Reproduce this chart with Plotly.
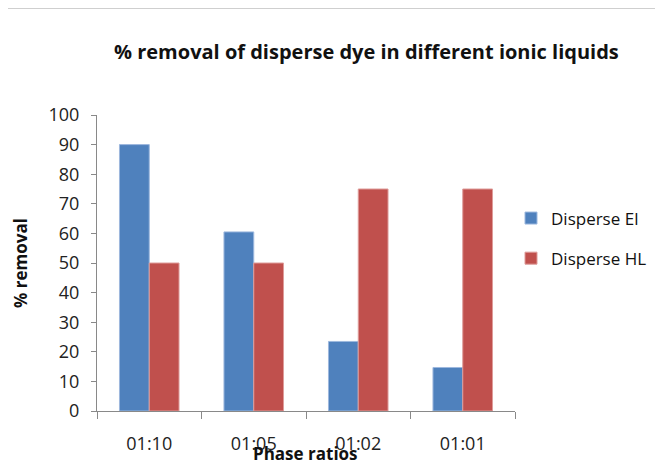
import plotly.graph_objects as go

categories = ["01:10", "01:05", "01:02", "01:01"]
disperse_el = [90, 60.5, 23.5, 14.7]
disperse_hl = [50, 50, 75, 75]
y_ticks = list(range(0, 101, 10))

FONT = "Open Sans"
# the page body has an 8px margin, so work in a frame shifted by 8px
OFF = 8
W, H = 663 - OFF, 465 - OFF
L, R, T, B = 97 - OFF, 515 - OFF, 115 - OFF, 411 - OFF
plot_w, plot_h = R - L, B - T

def px(pix):
    return (pix - OFF - L) / plot_w

def py(pix):
    return (B - (pix - OFF)) / plot_h

fig = go.Figure()
fig.add_trace(go.Bar(x=categories, y=disperse_el, name="Disperse El", legendgroup="a",
                     marker=dict(color="#4F81BD", line=dict(color="#9DB8DE", width=1))))
fig.add_trace(go.Bar(x=categories, y=disperse_hl, name="Disperse HL", legendgroup="b",
                     marker=dict(color="#C0504D", line=dict(color="#DE9C9A", width=1))))

fig.update_layout(
    width=W, height=H,
    margin=dict(l=L, r=W - R, t=T, b=H - B, pad=0, autoexpand=False),
    paper_bgcolor="white", plot_bgcolor="white",
    barmode="group", bargap=0.43, bargroupgap=0,
    font=dict(family=FONT, color="#222222"),
    showlegend=True,
    legend=dict(x=px(511), y=py(238.5), xanchor="left", yanchor="middle",
                font=dict(size=17, family=FONT, color="#111111"),
                itemwidth=30, tracegroupgap=15, traceorder="grouped"),
    xaxis=dict(showline=True, linecolor="#898989", linewidth=1, automargin=False,
               ticks="outside", ticklen=7, tickcolor="#898989",
               tickfont=dict(size=18, family=FONT, color="#222222"),
               ticklabelstandoff=16, tickson="boundaries", showgrid=False),
    yaxis=dict(range=[0, 100], tickvals=y_ticks, showline=True, automargin=False,
               linecolor="#898989", linewidth=1, ticks="outside", ticklen=5,
               tickcolor="#898989", showgrid=False, zeroline=False,
               ticklabelstandoff=8,
               tickfont=dict(size=18, family=FONT, color="#222222")),
)
fig.add_annotation(text="<b>% removal of disperse dye in different ionic liquids</b>",
                   xref="paper", yref="paper", x=px(366), y=py(52),
                   showarrow=False, font=dict(size=20, family=FONT, color="#111111"),
                   xanchor="center", yanchor="middle")
fig.add_annotation(text="<b>Phase ratios</b>", xref="paper", yref="paper",
                   x=px(305), y=py(453), showarrow=False,
                   font=dict(size=17, family=FONT, color="#111111"),
                   xanchor="center", yanchor="middle")
fig.add_annotation(text="<b>% removal</b>", xref="paper", yref="paper",
                   x=px(20), y=py(263), showarrow=False, textangle=-90,
                   font=dict(size=17, family=FONT, color="#111111"),
                   xanchor="center", yanchor="middle")
fig.add_shape(type="line", xref="paper", yref="paper",
              x0=px(3), x1=px(680), y0=py(8), y1=py(8),
              line=dict(color="#A0A0A0", width=1))

fig.write_html("out.html")
